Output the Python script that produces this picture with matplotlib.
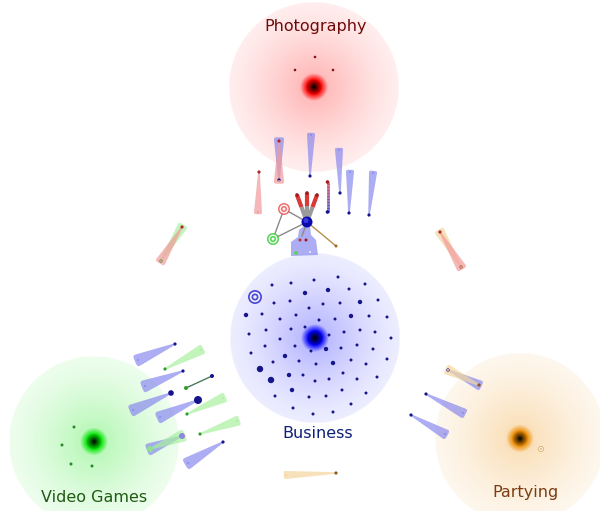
import numpy as np
import matplotlib
matplotlib.use("Agg")
import matplotlib.pyplot as plt
from matplotlib.patches import Polygon, Circle

# clusters: name, centre, glow colour, label colour, label position
cl_names = ["Photography", "Business", "Video Games", "Partying"]
cl_centers = [(314, 87), (315, 338), (94, 442), (520, 439)]
cl_colors = [(1.0, 0.0, 0.0), (0.0, 0.0, 1.0), (0.0, 0.9, 0.0), (0.93, 0.55, 0.0)]
cl_text_colors = ["#6e0a0a", "#0f1f78", "#1f5a12", "#7a3d12"]
cl_label_pos = [(316, 27), (318, 433), (94, 498), (525, 493)]
cl_radius = 85

# member nodes
photo_dots = [(315, 57), (295, 70), (333, 70)]
games_dots = [(74, 427), (62, 445), (71, 464), (92, 466)]
business_dots = [
    (338, 277, 1), (272, 285, 1), (291, 283, 1), (314, 280, 1), (365, 284, 1),
    (305, 293, 2), (328, 290, 2), (349, 289, 1), (274, 303, 1), (290, 301, 1),
    (309, 308, 1), (323, 304, 1), (340, 303, 1), (360, 302, 2), (378, 300, 1),
    (246, 315, 2), (262, 314, 1), (280, 319, 1), (296, 315, 1), (319, 320, 1),
    (335, 319, 1), (351, 316, 2), (369, 316, 1), (387, 317, 1), (249, 334, 1),
    (266, 330, 1), (291, 329, 1), (305, 327, 1), (329, 335, 1), (344, 332, 1),
    (360, 330, 1), (375, 332, 1), (391, 338, 1), (280, 339, 1), (265, 346, 1),
    (295, 346, 1), (311, 351, 1), (326, 349, 2), (341, 348, 1), (357, 345, 1),
    (373, 349, 1), (251, 353, 1), (285, 356, 2), (299, 361, 1), (273, 362, 1),
    (316, 364, 1), (333, 363, 2), (351, 360, 1), (366, 364, 1), (387, 359, 1),
    (260, 369, 3), (289, 375, 2), (303, 375, 1), (329, 379, 1), (343, 373, 1),
    (357, 379, 1), (377, 377, 1), (271, 380, 3), (315, 381, 1), (292, 390, 2),
    (342, 390, 1), (366, 393, 1), (275, 396, 1), (309, 397, 1), (326, 396, 1),
    (351, 404, 1), (293, 408, 1), (333, 412, 1), (313, 414, 1),
]

# comets: narrow end -> wide end, colour, half width at wide end
comets = [
    ((310, 176), (311, 135), "blue", 4),
    ((340, 193), (339, 150), "blue", 4),
    ((349, 213), (350, 172), "blue", 4),
    ((369, 215), (373, 173), "blue", 4),
    ((279, 180), (279, 140), "blue", 5),
    ((279, 141), (279, 181), "red", 5),
    ((259, 172), (258, 212), "red", 4),
    ((175, 344), (138, 360), "blue", 6),
    ((165, 369), (201, 350), "green", 5),
    ((183, 371), (145, 386), "blue", 6),
    ((171, 393), (133, 410), "blue", 6),
    ((198, 400), (160, 417), "blue", 6),
    ((187, 414), (223, 398), "green", 5),
    ((200, 434), (237, 421), "green", 5),
    ((182, 436), (150, 449), "blue", 6),
    ((150, 449), (182, 436), "green", 6),
    ((223, 442), (188, 463), "blue", 6),
    ((448, 370), (479, 385), "blue", 5),
    ((479, 385), (448, 370), "tan", 5),
    ((426, 394), (463, 413), "blue", 5),
    ((411, 415), (445, 434), "blue", 5),
    ((161, 261), (182, 227), "green", 5),
    ((182, 227), (161, 261), "red", 5),
    ((461, 267), (440, 232), "tan", 5),
    ((440, 232), (461, 267), "red", 5),
    ((336, 473), (286, 475), "tan", 4),
]
fill = {"blue": "#8a8aee", "red": "#f29a9a", "green": "#a8f0a0", "tan": "#f3d59e"}
dotc = {"blue": "#14148c", "red": "#b02a2a", "green": "#2e9e2e", "tan": "#8a5a1a"}

# hub in the middle
hub = (307, 222)
hub_red = [(297, 195), (307, 193), (317, 195)]
red_ring = (284, 209)
green_ring = (273, 239)
brown_end = (336, 246)


def glow(ax, c, col, R):
    n = 2 * R * 2 + 1
    g = np.linspace(-R, R, n)
    X, Y = np.meshgrid(g, g)
    r = np.hypot(X, Y)
    col = np.array(col)
    h = 0.07 + 0.24 * np.clip(1 - r / R, 0, 1) ** 1.3
    rgb = 1 - h[..., None] * (1 - col)
    w = np.clip((14 - r) / 7, 0, 1)[..., None]
    rgb = rgb * (1 - w) + col * w
    d = np.clip(1 - r / 8, 0, 1)[..., None]
    rgb = rgb * (1 - d)
    a = (r <= R).astype(float)
    img = np.dstack([rgb, a])
    ax.imshow(img, extent=(c[0] - R, c[0] + R, c[1] + R, c[1] - R),
              interpolation="bilinear", zorder=1)


def comet(ax, p0, p1, w1, color, w0=0.8):
    p0 = np.array(p0, float)
    p1 = np.array(p1, float)
    d = (p1 - p0) / np.linalg.norm(p1 - p0)
    nv = np.array([-d[1], d[0]])
    pts = []
    # squarish cap at the wide end
    for t in np.linspace(-np.pi / 2, np.pi / 2, 24):
        c, s = np.cos(t), np.sin(t)
        pts.append(p1 + d * 0.55 * w1 * np.abs(c) ** 0.5 + nv * w1 * np.sign(s) * np.abs(s) ** 0.5)
    for t in np.linspace(np.pi / 2, 3 * np.pi / 2, 10):
        pts.append(p0 + w0 * (d * np.cos(t) + nv * np.sin(t)))
    ax.add_patch(Polygon(pts, closed=True, facecolor=fill[color], edgecolor="none",
                         alpha=0.7, zorder=3))


def dot(ax, p, r, color, z=5):
    ax.add_patch(Circle(p, r, facecolor=color, edgecolor="none", zorder=z))


def rings(ax, p, color, n=3, r=7):
    for i in range(n):
        rr = r * (1 - i / n)
        ax.add_patch(Circle(p, rr, facecolor="white" if i % 2 else color,
                            edgecolor="none", alpha=0.9, zorder=5 + i))


fig = plt.figure(figsize=(6, 5.11), dpi=100)
ax = fig.add_axes([0, 0, 1, 1])
ax.set_xlim(0, 600)
ax.set_ylim(511, 0)
ax.axis("off")

for c, col in zip(cl_centers, cl_colors):
    glow(ax, c, col, cl_radius)

for name, pos, tc in zip(cl_names, cl_label_pos, cl_text_colors):
    ax.text(pos[0], pos[1], name, color=tc, fontsize=11.5, ha="center", va="center",
            family="DejaVu Sans", zorder=10)

for x, y in photo_dots:
    dot(ax, (x, y), 1.3, "#8a1010")
for x, y in games_dots:
    dot(ax, (x, y), 1.5, "#2a8a2a")
for x, y, s in business_dots:
    dot(ax, (x, y), [1.5, 2.2, 3.2][s - 1], "#16168a")

rings(ax, (255, 297), "#3a3ad0", n=4, r=7)
rings(ax, (541, 449), "#d8b070", n=3, r=3)

for p0, p1, col, w in comets:
    comet(ax, p0, p1, w, col)
    dot(ax, p0, 1.6, dotc[col], z=6)
    dot(ax, p1, 1.0, fill[col], z=6)

# extra nodes around the comets
dot(ax, (171, 393), 2.8, "#14148c", z=7)
dot(ax, (198, 400), 4.0, "#14148c", z=7)
dot(ax, (182, 436), 3.0, "#8a8ad8", z=7)
dot(ax, (150, 449), 3.0, "#90e090", z=7)
ax.plot([186, 212], [388, 376], color="#4a7a5a", lw=1, zorder=4)
dot(ax, (186, 388), 2.0, "#2e9e2e", z=6)
dot(ax, (212, 376), 2.0, "#14148c", z=6)

# red-blue stick near the hub
n = 20
ys = np.linspace(182, 212, n + 1)
for i in range(n):
    t = i / n
    ax.plot([327.5, 327.5], ys[i:i + 2], color=(0.85 * (1 - t) + 0.3 * t, 0.3, 0.35 + 0.5 * t),
            lw=2, solid_capstyle="butt", zorder=4)
dot(ax, (327.5, 182), 1.8, "#a02020", z=6)
dot(ax, (327.5, 212), 1.8, "#14148c", z=6)

# hub links
for p in [red_ring, green_ring]:
    ax.plot([hub[0], p[0]], [hub[1], p[1]], color="#8a8a8a", lw=1, zorder=4)
ax.plot([red_ring[0], green_ring[0]], [red_ring[1], green_ring[1]], color="#8a8a8a", lw=1, zorder=4)
ax.plot([hub[0], brown_end[0]], [hub[1], brown_end[1]], color="#b89050", lw=1, zorder=4)
dot(ax, brown_end, 1.5, "#a06a20", z=6)
for p in hub_red:
    mx = hub[0] + 0.55 * (p[0] - hub[0])
    my = hub[1] + 0.55 * (p[1] - hub[1])
    ax.plot([hub[0], mx], [hub[1], my], color="#9a9a9a", lw=3, zorder=4, solid_capstyle="butt")
    ax.plot([mx, p[0]], [my, p[1]], color="#d83a3a", lw=3, zorder=4, solid_capstyle="butt")
    dot(ax, p, 1.8, "#a01818", z=6)

# blob below the hub
blob = [(304, 226), (310, 226), (311, 235), (316, 240), (318, 255), (291, 256),
        (291, 242), (298, 237), (299, 230)]
ax.add_patch(Polygon(blob, closed=True, facecolor="#8a8aee", alpha=0.7, edgecolor="none", zorder=3))
ax.plot([hub[0], 302], [hub[1], 236], color="#8a8a8a", lw=1, zorder=4)
dot(ax, (300, 240), 1.5, "#c03030", z=6)
dot(ax, (306, 240), 1.5, "#a01818", z=6)
dot(ax, (296, 253), 2.0, "#60d060", z=6)
dot(ax, (310, 252), 1.0, "#f0f0f0", z=6)

rings(ax, red_ring, "#e86060", n=4, r=6)
rings(ax, green_ring, "#40d040", n=4, r=6)
dot(ax, hub, 5.5, "#0a0ab0", z=9)
dot(ax, (306, 220.5), 2.5, "#3a3ae0", z=9)

fig.savefig("out.png", dpi=100)
